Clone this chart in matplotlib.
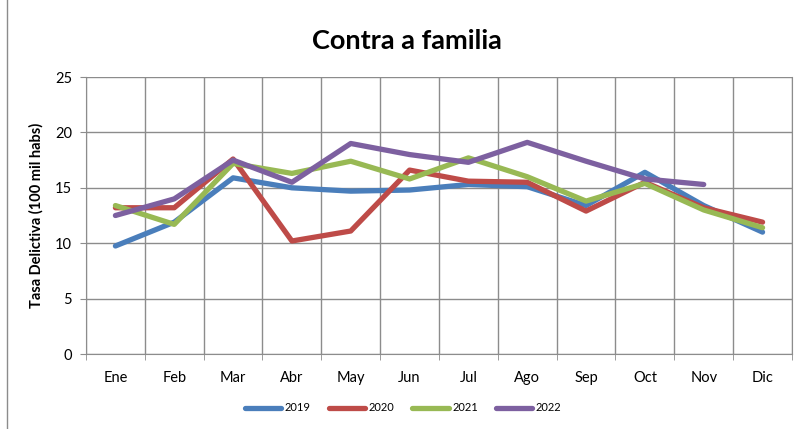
import numpy as np
import matplotlib.pyplot as plt
from matplotlib.lines import Line2D

plt.rcParams["font.family"] = ["Lato", "DejaVu Sans"]

# =============================================================================
# Data
# =============================================================================

months = ["Ene", "Feb", "Mar", "Abr", "May", "Jun",
          "Jul", "Ago", "Sep", "Oct", "Nov", "Dic"]

y2019 = [9.75, 11.9, 15.9, 15.0, 14.7, 14.8, 15.3, 15.1, 13.4, 16.4, 13.4, 11.0]
y2020 = [13.2, 13.2, 17.6, 10.2, 11.1, 16.6, 15.6, 15.5, 12.9, 15.5, 13.2, 11.9]
y2021 = [13.4, 11.7, 17.2, 16.3, 17.4, 15.8, 17.7, 16.0, 13.8, 15.4, 13.0, 11.4]
y2022 = [12.5, 14.0, 17.5, 15.5, 19.0, 18.0, 17.3, 19.1, 17.4, 15.8, 15.3]

series = [
    ("2019", y2019, "#4a7ebb"),
    ("2020", y2020, "#be4b48"),
    ("2021", y2021, "#98b954"),
    ("2022", y2022, "#7d60a0"),
]

# =============================================================================
# Plot
# =============================================================================

fig = plt.figure(figsize=(8.06, 4.29), dpi=100)
ax = fig.add_axes([0.1067, 0.1748, 0.8759, 0.6457])

x = np.arange(len(months))
for name, vals, color in series:
    ax.plot(x[:len(vals)], vals, color=color, lw=3.8, label=name,
            solid_capstyle="round", solid_joinstyle="round")

ax.set_xlim(-0.5, 11.5)
ax.set_ylim(0, 25)
ax.set_yticks(range(0, 26, 5))
ax.set_xticks(x)
ax.set_xticklabels(months)
ax.set_xticks(np.arange(-0.5, 12, 1), minor=True)

ax.grid(True, which="minor", axis="x", color="#8c8c8c", lw=1)
ax.grid(True, which="major", axis="y", color="#8c8c8c", lw=1)
ax.set_axisbelow(True)

ax.tick_params(axis="x", which="major", length=0, pad=12, labelsize=10.5)
ax.tick_params(axis="x", which="minor", length=4, color="#8c8c8c")
ax.tick_params(axis="y", length=4, color="#8c8c8c", labelsize=10.5, pad=6)

ax.spines["top"].set_visible(False)
for side in ["left", "bottom", "right"]:
    ax.spines[side].set_color("#8c8c8c")

ax.set_ylabel("Tasa Delictiva (100 mil habs)", fontsize=10.5, fontweight="bold",
              labelpad=8)

fig.text(0.505, 0.905, "Contra a familia", ha="center", va="center",
         fontsize=19.5, fontweight="bold")

fig.legend(loc="center", bbox_to_anchor=(0.5, 0.049), ncol=4, frameon=False,
           fontsize=8, handlelength=3.3, handletextpad=0.3, columnspacing=1.6)

# left edge of the outer chart border
fig.add_artist(Line2D([0.009, 0.009], [0.0, 1.0], transform=fig.transFigure,
                      color="#8c8c8c", lw=1))

fig.savefig("out.png", dpi=100)
